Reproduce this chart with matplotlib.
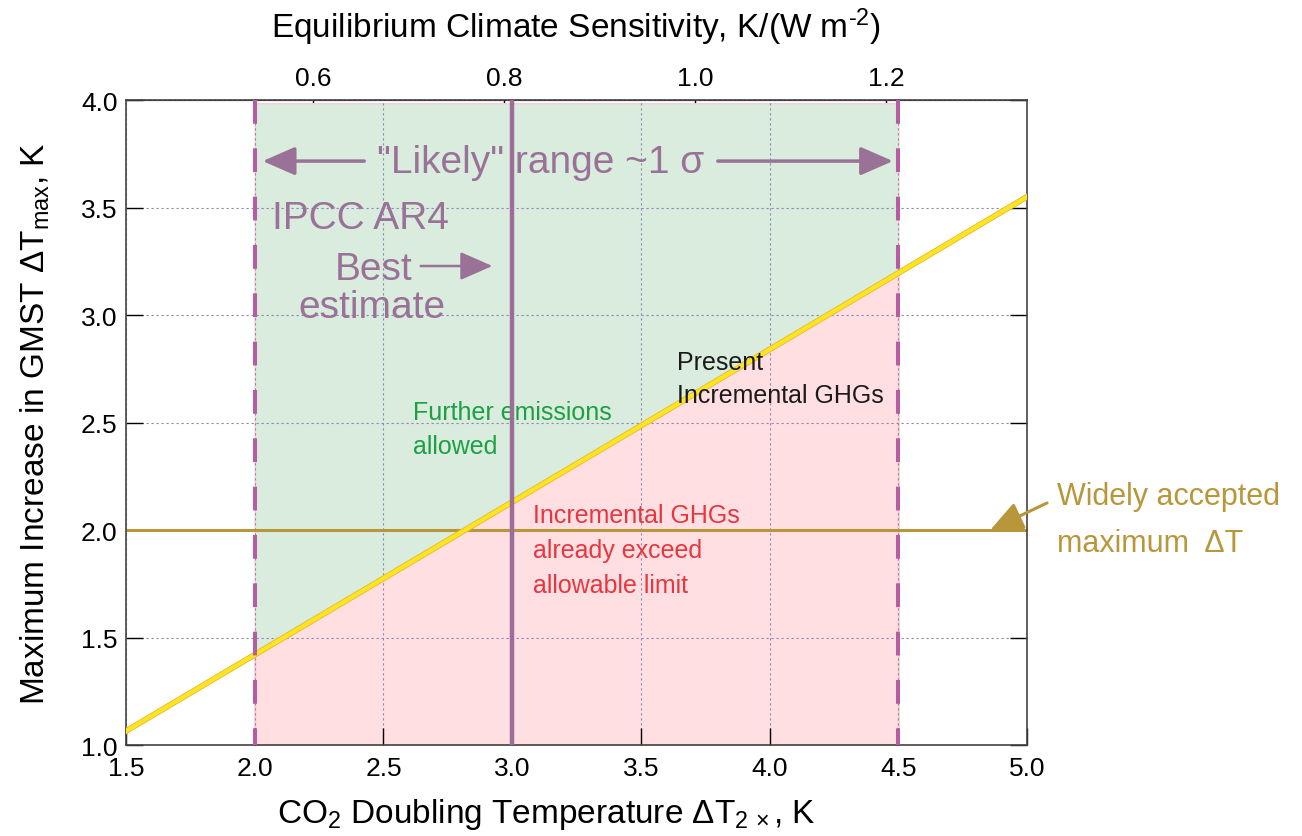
import matplotlib
matplotlib.use("Agg")
import matplotlib.pyplot as plt
import matplotlib.patheffects as pe

plt.rcParams["font.family"] = ["Liberation Sans", "DejaVu Sans"]
plt.rcParams["mathtext.fontset"] = "custom"
plt.rcParams["mathtext.rm"] = "Liberation Sans"
plt.rcParams["mathtext.it"] = "Liberation Sans"
plt.rcParams["mathtext.default"] = "regular"

# present incremental GHG line: dT_max vs dT_2x
x_line = [1.5, 2.0, 3.0, 4.5, 5.0]
y_line = [1.065, 1.42, 2.13, 3.195, 3.55]

likely_range = [2.0, 4.5]     # IPCC AR4 "likely" range, K
best_estimate = 3.0           # IPCC AR4 best estimate, K
max_dT = 2.0                  # widely accepted maximum, K
f2x = 3.71                    # forcing for CO2 doubling, W m-2

x_ticks = [1.5, 2.0, 2.5, 3.0, 3.5, 4.0, 4.5, 5.0]
y_ticks = [1.0, 1.5, 2.0, 2.5, 3.0, 3.5, 4.0]
ecs_ticks = [0.6, 0.8, 1.0, 1.2]

mauve = "#9a7197"
dash_col = "#b65ca2"
gold = "#b8963a"

fig = plt.figure(figsize=(13.02, 8.37), dpi=100)
ax = fig.add_axes([0.0968, 0.1087, 0.692, 0.7706])

# shaded regions inside the likely range
ax.fill_between(x_line[1:4], y_line[1:4], 3.985, color="#d9ecdd",
                edgecolor="#f6cfd4", lw=1, zorder=0.5)
ax.fill_between(x_line[1:4], 1.0, y_line[1:4], color="#ffdfe2",
                edgecolor="#ffc8cd", lw=1.5, zorder=0.5)

ax.plot(x_line, y_line, color="#ffe51f", lw=3.0, zorder=5,
        path_effects=[pe.Stroke(linewidth=4.2, foreground="#e4b838"), pe.Normal()])
ax.axhline(max_dT, color=gold, lw=2.2, zorder=2.5)

for xv in likely_range:
    ax.plot([xv, xv], [4.0, 1.0], color=dash_col, lw=2.9, dashes=(5.9, 6.1),
            zorder=6, solid_capstyle="butt", dash_capstyle="butt")
ax.axvline(best_estimate, color="#9d6c98", lw=3.2, zorder=6)

ax.set_xlim(1.5, 5.0)
ax.set_ylim(1.0, 4.0)
ax.set_xticks(x_ticks)
ax.set_yticks(y_ticks)
ax.set_xticklabels([f"{v:.1f}" for v in x_ticks])
ax.set_yticklabels([f"{v:.1f}" for v in y_ticks])
ax.grid(True, color="#8e88b0", lw=0.8, linestyle=(0, (2, 2.5)))
ax.tick_params(direction="in", length=12, width=1, labelsize=19)
ax.tick_params(axis="x", pad=8, top=False)
ax.tick_params(axis="y", pad=6, right=True)
for sp in ax.spines.values():
    sp.set_color("#444444")
    sp.set_linewidth(1.2)

sec = ax.secondary_xaxis("top", functions=(lambda t: t / f2x, lambda s: s * f2x))
sec.set_xticks(ecs_ticks)
sec.set_xticklabels([f"{v:.1f}" for v in ecs_ticks])
sec.tick_params(direction="in", length=12, width=1, labelsize=19, pad=7)

# annotations
head = "-|>,head_length=0.8,head_width=0.35"
ax.text(2.475, 3.665, '"Likely" range ~1 σ', color=mauve, fontsize=28, zorder=3)
ax.annotate("", xy=(2.02, 3.716), xytext=(2.436, 3.716),
            arrowprops=dict(arrowstyle=head, color=mauve, lw=2.5, mutation_scale=25))
ax.annotate("", xy=(4.49, 3.716), xytext=(3.788, 3.716),
            arrowprops=dict(arrowstyle=head, color=mauve, lw=2.5, mutation_scale=25))
ax.text(2.067, 3.405, "IPCC AR4", color=mauve, fontsize=28, zorder=3)
ax.text(2.463, 3.167, "Best", color=mauve, fontsize=28, ha="center", zorder=3)
ax.text(2.456, 2.991, "estimate", color=mauve, fontsize=28, ha="center", zorder=3)
ax.annotate("", xy=(2.934, 3.228), xytext=(2.634, 3.228),
            arrowprops=dict(arrowstyle=head, color=mauve, lw=1.8, mutation_scale=25))

green_txt = "#1ca043"
ax.text(2.615, 2.516, "Further emissions", color=green_txt, fontsize=18, zorder=3)
ax.text(2.615, 2.358, "allowed", color=green_txt, fontsize=18, zorder=3)

ax.text(3.641, 2.749, "Present", color="#1a1a1a", fontsize=18, zorder=5.5)
ax.text(3.641, 2.595, "Incremental GHGs", color="#1a1a1a", fontsize=18, zorder=5.5)

red_txt = "#e8363f"
ax.text(3.081, 2.037, "Incremental GHGs", color=red_txt, fontsize=18, zorder=3)
ax.text(3.081, 1.874, "already exceed", color=red_txt, fontsize=18, zorder=3)
ax.text(3.081, 1.712, "allowable limit", color=red_txt, fontsize=18, zorder=3)

ax.text(5.117, 2.121, "Widely accepted", color=gold, fontsize=22, clip_on=False)
ax.text(5.117, 1.902, "maximum  ΔT", color=gold, fontsize=22, clip_on=False)
ax.annotate("", xy=(4.857, 2.0), xytext=(5.078, 2.126), annotation_clip=False,
            arrowprops=dict(arrowstyle=head, color=gold, lw=2.2, mutation_scale=25,
                            shrinkA=0, shrinkB=0))

# axis titles
fig.text(0.4424, 0.9546, r"Equilibrium Climate Sensitivity, K/(W m$^{\text{-}2}$)",
         fontsize=24, ha="center", va="baseline")
fig.text(0.4194, 0.0167, r"CO$_2$ Doubling Temperature $\Delta$T$_{2\,\times}$, K",
         fontsize=24, ha="center", va="baseline")
fig.text(0.027, 0.4934, r"Maximum Increase in GMST $\Delta$T$_{max}$, K",
         fontsize=24, ha="center", va="center", rotation=90)

fig.savefig("out.png", dpi=100)
